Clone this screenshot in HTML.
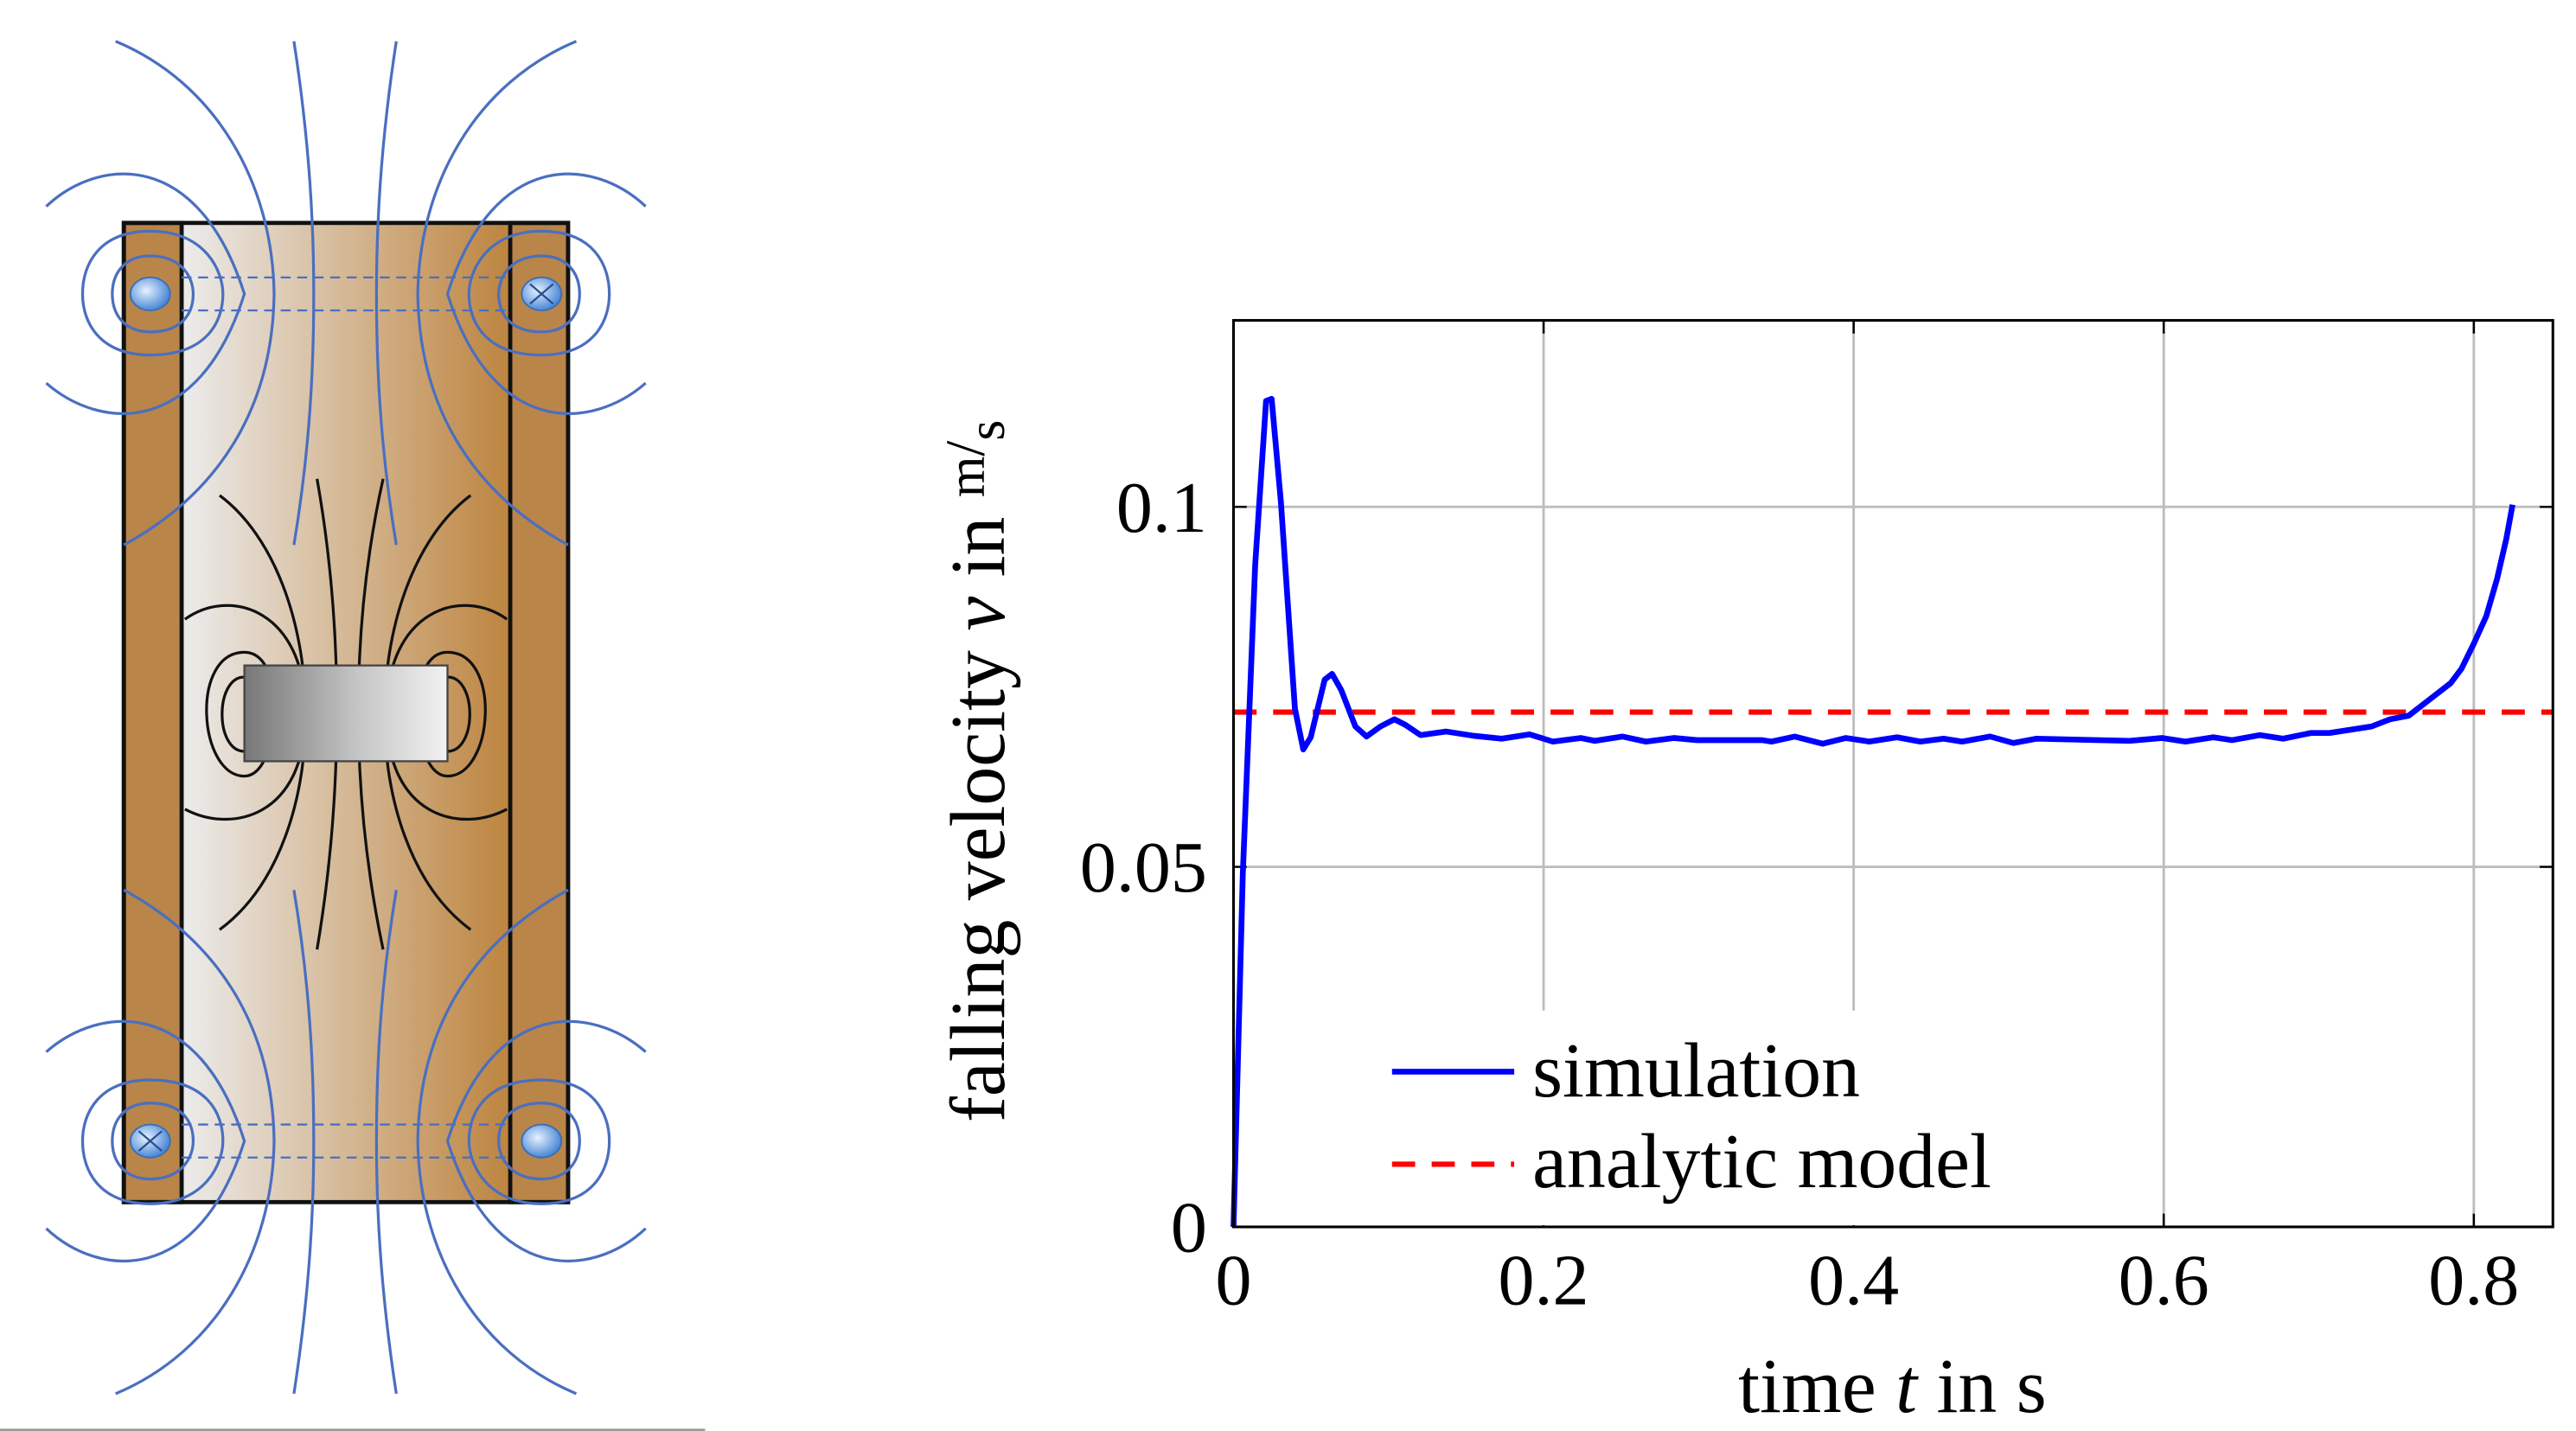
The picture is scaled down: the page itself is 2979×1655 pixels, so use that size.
<!DOCTYPE html>
<html><head><meta charset="utf-8"><style>
html,body{margin:0;padding:0;background:#fff;}
svg{display:block;}
text{font-family:"Liberation Serif",serif;fill:#000;}
</style></head><body>
<svg id="root" width="2979" height="1655" viewBox="0 0 1560 866.6" preserveAspectRatio="none" xmlns="http://www.w3.org/2000/svg">
<defs>
<linearGradient id="tube" x1="0" x2="1" y1="0" y2="0">
<stop offset="0" stop-color="#ececec"/><stop offset="1" stop-color="#bd843f"/>
</linearGradient>
<linearGradient id="mag" x1="0" x2="1">
<stop offset="0" stop-color="#777"/><stop offset="0.55" stop-color="#c4c4c4"/><stop offset="1" stop-color="#f2f2f2"/>
</linearGradient>
<radialGradient id="coil" cx="0.4" cy="0.4" r="0.6">
<stop offset="0" stop-color="#e6f1ff"/><stop offset="1" stop-color="#4a88d6"/>
</radialGradient>
</defs>

<g id="diagram">
<rect x="110" y="135" width="199" height="593" fill="url(#tube)"/>
<rect x="75" y="135" width="35" height="593" fill="#ba8549" stroke="#111" stroke-width="2.5"/>
<rect x="309" y="135" width="35" height="593" fill="#ba8549" stroke="#111" stroke-width="2.5"/>
<rect x="75" y="135" width="269" height="593" fill="none" stroke="#111" stroke-width="2.5"/>
<g id="blue" fill="none" stroke="#4a6fc0" stroke-width="1.7"></g>
<g id="black" fill="none" stroke="#111" stroke-width="1.7"></g>
<rect x="148" y="403" width="123" height="58" fill="url(#mag)" stroke="#444" stroke-width="1.2"/>
<g id="coils"></g>
<line x1="0" y1="866" x2="427" y2="866" stroke="#999" stroke-width="1.5"/>
</g>

<g id="chart"></g>
</svg>
<script>
// ---------- chart data ----------
const simT = [0,0.006,0.014,0.021,0.0246,0.0306,0.0396,0.045,0.0498,0.0588,0.0636,0.0696,0.0786,0.0858,0.0948,0.1038,0.111,0.1206,0.137,0.155,0.173,0.191,0.206,0.224,0.233,0.251,0.266,0.284,0.299,0.341,0.347,0.362,0.380,0.395,0.410,0.428,0.443,0.458,0.470,0.488,0.503,0.518,0.578,0.599,0.614,0.632,0.644,0.662,0.677,0.695,0.707,0.734,0.746,0.758,0.770,0.785,0.792,0.800,0.808,0.815,0.821,0.825];
const simV = [0,0.049,0.092,0.1147,0.115,0.1006,0.072,0.0663,0.068,0.076,0.0768,0.0745,0.0695,0.0681,0.0695,0.0705,0.0697,0.0683,0.0688,0.0682,0.0678,0.0684,0.0674,0.0679,0.0675,0.0681,0.0674,0.0679,0.0676,0.0676,0.0674,0.0681,0.0671,0.0679,0.0674,0.068,0.0674,0.0678,0.0674,0.0681,0.0672,0.0678,0.0675,0.0679,0.0674,0.068,0.0676,0.0683,0.0678,0.0686,0.0686,0.0695,0.0705,0.071,0.073,0.0755,0.0775,0.081,0.0848,0.090,0.0956,0.1003];
const analyticV = [0.0715];
const xTicks = [0,0.2,0.4,0.6,0.8];
const xTickLabels = ["0","0.2","0.4","0.6","0.8"];
const yTicks = [0,0.05,0.1];
const yTickLabels = ["0","0.05","0.1"];
const xDomain = [0,0.851];
const yDomain = [0,0.1259];

const NS="http://www.w3.org/2000/svg";
const L=747,R=1546,T=194,B=743;
function sx(t){return L+(t-xDomain[0])/(xDomain[1]-xDomain[0])*(R-L);}
function sy(v){return B-(v-yDomain[0])/(yDomain[1]-yDomain[0])*(B-T);}
function mk(tag,attrs,parent){const e=document.createElementNS(NS,tag);for(const k in attrs)e.setAttribute(k,attrs[k]);parent.appendChild(e);return e;}
const chart=document.getElementById('chart');

xTicks.forEach((t,i)=>{ if(t===0)return;
  const g=mk('line',{x1:sx(t),x2:sx(t),y1:T,y2:B,stroke:'#bdbdbd','stroke-width':1.5},chart);
  
  
  const tk=mk('path',{d:`M${sx(t)},${B}v-8M${sx(t)},${T}v8`,stroke:'#000','stroke-width':1.3},chart);
  
  
});
yTicks.forEach((v,i)=>{ if(v===0)return;
  const g=mk('line',{x1:L,x2:R,y1:sy(v),y2:sy(v),stroke:'#bdbdbd','stroke-width':1.5},chart);
  
  
  const tk=mk('path',{d:`M${L},${sy(v)}h8M${R},${sy(v)}h-8`,stroke:'#000','stroke-width':1.3},chart);
  
  
});
const lb=mk('rect',{x:830,y:612,width:400,height:130,fill:'#fff'},chart);



const an=mk('line',{x1:L,x2:R,y1:sy(analyticV[0]),y2:sy(analyticV[0]),stroke:'#ff0000','stroke-width':3.2,'stroke-dasharray':'14 10'},chart);


const pts=simT.map((t,i)=>sx(t).toFixed(2)+','+sy(simV[i]).toFixed(2)).join(' ');
const sim=mk('polyline',{points:pts,fill:'none',stroke:'#0000ff','stroke-width':3.5,'stroke-linejoin':'round'},chart);



const fr=mk('rect',{x:L,y:T,width:R-L,height:B-T,fill:'none',stroke:'#000','stroke-width':1.6},chart);



xTicks.forEach((t,i)=>{
  const tx=mk('text',{x:sx(t),y:790,'text-anchor':'middle','font-size':44},chart);
  tx.textContent=xTickLabels[i];
  
  
});
yTicks.forEach((v,i)=>{
  const tx=mk('text',{x:731,y:sy(v)+15,'text-anchor':'end','font-size':44},chart);
  tx.textContent=yTickLabels[i];
  
  
});

const xt=mk('text',{x:1146,y:855,'text-anchor':'middle','font-size':47},chart);
xt.innerHTML='time <tspan font-style="italic">t</tspan> in s';


const yt=mk('text',{x:0,y:0,'text-anchor':'middle','font-size':47,transform:'translate(608,467) rotate(-90)'},chart);
yt.innerHTML='falling velocity <tspan font-style="italic">v</tspan> in <tspan font-size="32" dy="-12">m</tspan><tspan font-size="34">/</tspan><tspan font-size="32" dy="12">s</tspan>';



const l1=mk('line',{x1:843,x2:917,y1:649,y2:649,stroke:'#0000ff','stroke-width':3.5},chart);


const t1=mk('text',{x:928,y:664,'font-size':47},chart);t1.textContent='simulation';


const l2=mk('line',{x1:843,x2:917,y1:705,y2:705,stroke:'#ff0000','stroke-width':3.2,'stroke-dasharray':'14 10'},chart);


const t2=mk('text',{x:928,y:719,'font-size':47},chart);t2.textContent='analytic model';



// ---------- diagram ----------
const blue=document.getElementById('blue');
const black=document.getElementById('black');
const topPaths=[
 'M28,125 C60,95 120,90 148,178 C120,266 60,260 28,232',
 'M70,25 C130,50 165,110 166,178 C165,250 130,300 75,330',
 'M178,25 C188,90 190,140 190,178 C190,220 188,270 178,330',
 'M240,25 C230,90 228,140 228,178 C228,220 230,270 240,330',
 'M391,125 C359,95 299,90 271,178 C299,266 359,260 391,232',
 'M349,25 C289,50 254,110 253,178 C254,250 289,300 344,330',
 'M91,140 C125,140 135,165 135,178 C135,195 125,215 91,215 C60,215 50,195 50,178 C50,160 60,140 91,140Z',
 'M91,155 C110,155 117,168 117,178 C117,190 110,201 91,201 C75,201 68,190 68,178 C68,166 75,155 91,155Z',
 'M328,140 C294,140 284,165 284,178 C284,195 294,215 328,215 C359,215 369,195 369,178 C369,160 359,140 328,140Z',
 'M328,155 C309,155 302,168 302,178 C302,190 309,201 328,201 C344,201 351,190 351,178 C351,166 344,155 328,155Z',
 'M110,168 H309 M110,188 H309'
];
[0,1].forEach(m=>{
 const g=document.createElementNS(NS,'g');
 if(m===1)g.setAttribute('transform','translate(0,869) scale(1,-1)');
 
 
 blue.appendChild(g);
 topPaths.forEach((d,i)=>{
  const p=mk('path',{d:d},g);
  if(i===topPaths.length-1){p.setAttribute('stroke-dasharray','6 4');p.setAttribute('stroke-width','1.2');}
  
  
 });
});
const blk=[
 'M133,300 C200,350 205,510 133,563',
 'M285,300 C218,350 213,510 285,563',
 'M192,290 C208,380 208,480 192,575',
 'M232,290 C212,380 212,480 232,575',
 'M112,375 C140,355 185,370 185,432 C185,495 140,505 112,490',
 'M307,375 C279,355 234,370 234,432 C234,495 279,505 307,490',
 'M148,395 C115,395 120,470 148,470 C170,470 175,395 148,395',
 'M271,395 C304,395 299,470 271,470 C249,470 244,395 271,395',
 'M148,410 C130,410 130,455 148,455 M271,410 C289,410 289,455 271,455'
];
blk.forEach(d=>{
 const p=mk('path',{d:d},black);
 
 
});
const coils=document.getElementById('coils');
[[91,178,0],[328,178,1],[91,691,1],[328,691,0]].forEach(c=>{
 const e=mk('ellipse',{cx:c[0],cy:c[1],rx:12,ry:10,fill:'url(#coil)',stroke:'#3a6fb8','stroke-width':1},coils);
 
 
 if(c[2]){
  const x=mk('path',{d:`M${c[0]-7},${c[1]-6}L${c[0]+7},${c[1]+6}M${c[0]+7},${c[1]-6}L${c[0]-7},${c[1]+6}`,stroke:'#2a4f90','stroke-width':1.2},coils);
  
  
 }
});
</script>
</body></html>
